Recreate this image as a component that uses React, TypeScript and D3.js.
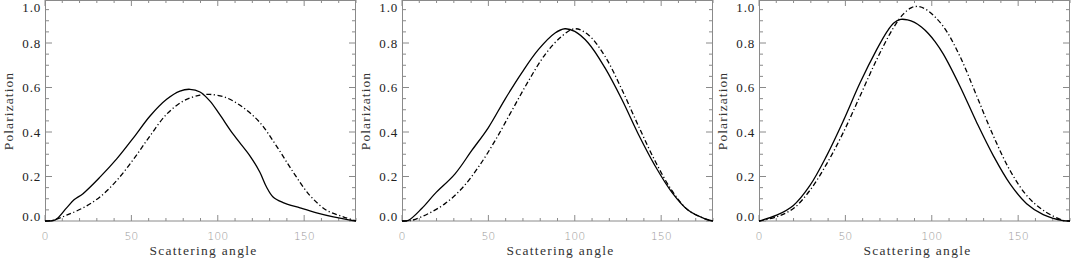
import * as d3 from 'd3';

// angles (deg) and polarization
const p1SolidAngle = [0, 6, 12.5, 16.8, 22, 31.8, 41.5, 51.4, 60.8, 70.4, 78.1, 83.9, 89.7, 95.5, 101, 108.9, 118.5, 124.3, 128.2, 132, 137.8, 147.6, 157.2, 166.9, 180];
const p1SolidPol = [0, 0.005, 0.059, 0.095, 0.123, 0.197, 0.279, 0.376, 0.472, 0.547, 0.584, 0.592, 0.58, 0.539, 0.48, 0.39, 0.294, 0.22, 0.153, 0.108, 0.083, 0.059, 0.037, 0.019, 0];
const p1DashAngle = [0, 5, 12.5, 22, 31.8, 41.5, 51.4, 60.8, 70.4, 80, 89.7, 95.5, 105, 114.7, 124.3, 133.9, 143.6, 153.3, 163, 172.6, 180];
const p1DashPol = [0, 0.004, 0.026, 0.059, 0.108, 0.182, 0.279, 0.383, 0.48, 0.539, 0.566, 0.569, 0.554, 0.51, 0.443, 0.338, 0.22, 0.115, 0.048, 0.019, 0];

const p2SolidAngle = [0, 3.7, 11.4, 19.1, 30.7, 40.3, 50, 59.6, 69.3, 78.9, 88.6, 94.3, 100, 107.8, 117.5, 127.2, 136.8, 146.4, 156.1, 165.7, 175.4, 180];
const p2SolidPol = [0, 0.003, 0.056, 0.123, 0.212, 0.316, 0.42, 0.547, 0.666, 0.77, 0.845, 0.864, 0.852, 0.8, 0.688, 0.547, 0.39, 0.249, 0.13, 0.048, 0.01, 0];
const p2DashAngle = [0, 5.6, 15.2, 24.9, 34.5, 44.2, 53.8, 63.5, 73.1, 82.8, 92.4, 100, 107.8, 117.5, 127.2, 136.8, 146.4, 156.1, 165.7, 175.4, 180];
const p2DashPol = [0, 0.003, 0.033, 0.078, 0.145, 0.242, 0.36, 0.495, 0.628, 0.748, 0.83, 0.864, 0.837, 0.74, 0.592, 0.428, 0.271, 0.138, 0.048, 0.01, 0];

const p3SolidAngle = [0, 10.2, 19.9, 29.5, 39.2, 48.8, 58.5, 68.1, 74, 78, 82, 86, 90, 94, 98, 102, 106.7, 116.3, 126, 135.6, 145.3, 154.9, 164.5, 176, 180];
const p3SolidPol = [0, 0.026, 0.07, 0.16, 0.294, 0.45, 0.621, 0.77, 0.85, 0.89, 0.906, 0.904, 0.893, 0.872, 0.843, 0.805, 0.75, 0.606, 0.443, 0.294, 0.167, 0.078, 0.029, 0.002, 0];
const p3DashAngle = [0, 10.2, 19.9, 29.5, 39.2, 48.8, 58.5, 68.1, 77.7, 83.5, 88, 92, 97.1, 106.7, 116.3, 126, 135.6, 145.3, 154.9, 164.5, 176, 180];
const p3DashPol = [0, 0.019, 0.056, 0.138, 0.257, 0.398, 0.562, 0.725, 0.867, 0.93, 0.958, 0.964, 0.949, 0.874, 0.74, 0.562, 0.383, 0.227, 0.115, 0.048, 0.003, 0];

const xTicks = [0, 50, 100, 150];
const yTicks = [0, 0.2, 0.4, 0.6, 0.8, 1.0];
const xMinor = d3.range(0, 181, 10);
const yMinor = d3.range(0, 1.001, 0.05);

const panels = [
  { left: 45, solid: [p1SolidAngle, p1SolidPol], dash: [p1DashAngle, p1DashPol] },
  { left: 402, solid: [p2SolidAngle, p2SolidPol], dash: [p2DashAngle, p2DashPol] },
  { left: 759, solid: [p3SolidAngle, p3SolidPol], dash: [p3DashAngle, p3DashPol] },
];

const W = 1071, H = 259;
const PW = 311, TOP = 0, BOTTOM = 221;
const font = '"Liberation Serif", "DejaVu Serif", serif';
const tickFont = '"DejaVu Sans", sans-serif';
const axisColor = '#8a8a8a';

function Panel({ left, solid, dash, idx }: any) {
  const x = d3.scaleLinear().domain([0, 180]).range([left, left + PW]);
  const y = d3.scaleLinear().domain([0, 1]).range([221, -1.5]);
  const line = d3.line<[number, number]>()
    .x(d => x(d[0]))
    .y(d => y(d[1]))
    .curve(d3.curveCatmullRom.alpha(0.5));
  const pts = (s: number[][]) => s[0].map((a, i) => [a, s[1][i]] as [number, number]);
  const clipId = `clip${idx}`;

  return (
    <g>
      <clipPath id={clipId}>
        <rect x={left} y={TOP} width={PW} height={BOTTOM - TOP + 1} />
      </clipPath>
      {/* minor ticks */}
      {xMinor.map(v => (
        <g key={'xm' + v} stroke={axisColor} strokeWidth={1}>
          <line x1={x(v)} x2={x(v)} y1={BOTTOM} y2={BOTTOM - (v % 50 === 0 ? 6 : 3)} />
          <line x1={x(v)} x2={x(v)} y1={TOP} y2={TOP + (v % 50 === 0 ? 6 : 3)} />
        </g>
      ))}
      {yMinor.map((v, i) => (
        <g key={'ym' + i} stroke={axisColor} strokeWidth={1}>
          <line x1={left} x2={left + (i % 4 === 0 ? 7 : 4)} y1={y(v)} y2={y(v)} />
          <line x1={left + PW} x2={left + PW - (i % 4 === 0 ? 7 : 4)} y1={y(v)} y2={y(v)} />
        </g>
      ))}
      <rect x={left + 0.5} y={TOP + 0.5} width={PW - 1} height={BOTTOM - TOP - 0.5}
        fill="none" stroke={axisColor} strokeWidth={1} />
      {/* y tick labels */}
      {yTicks.map(v => (
        <text key={'yl' + v} x={left - 4} y={Math.min(Math.max(y(v), 7), 216)} dy="0.35em"
          textAnchor="end" fontFamily={font} fontSize={13} letterSpacing={0.8} fill="#222">
          {v.toFixed(1)}
        </text>
      ))}
      {/* x tick labels */}
      {xTicks.map(v => (
        <text key={'xl' + v} x={x(v)} y={240} textAnchor="middle"
          fontFamily={tickFont} fontSize={11} fontWeight={300} fill="#999">
          {v}
        </text>
      ))}
      <text x={left + PW / 2 + 3} y={255} textAnchor="middle" fontFamily={font}
        fontSize={13.5} letterSpacing={1.3} fill="#333">Scattering angle</text>
      <text transform={`translate(${left - 32},111) rotate(-90)`} textAnchor="middle"
        fontFamily={font} fontSize={13.5} letterSpacing={1.1} fill="#333">Polarization</text>
      <g clipPath={`url(#${clipId})`} fill="none" stroke="#000" strokeWidth={1.3}>
        <path d={line(pts(solid)) || ''} />
        <path d={line(pts(dash)) || ''} strokeDasharray="5 2.5 1.2 2.5" />
      </g>
    </g>
  );
}

export default function App() {
  return (
    <svg width={W} height={H} style={{ position: 'absolute', left: 0, top: 0, background: '#fff' }}>
      <rect width={W} height={H} fill="#fff" />
      {panels.map((p, i) => (
        <Panel key={i} idx={i} {...p} />
      ))}
    </svg>
  );
}
